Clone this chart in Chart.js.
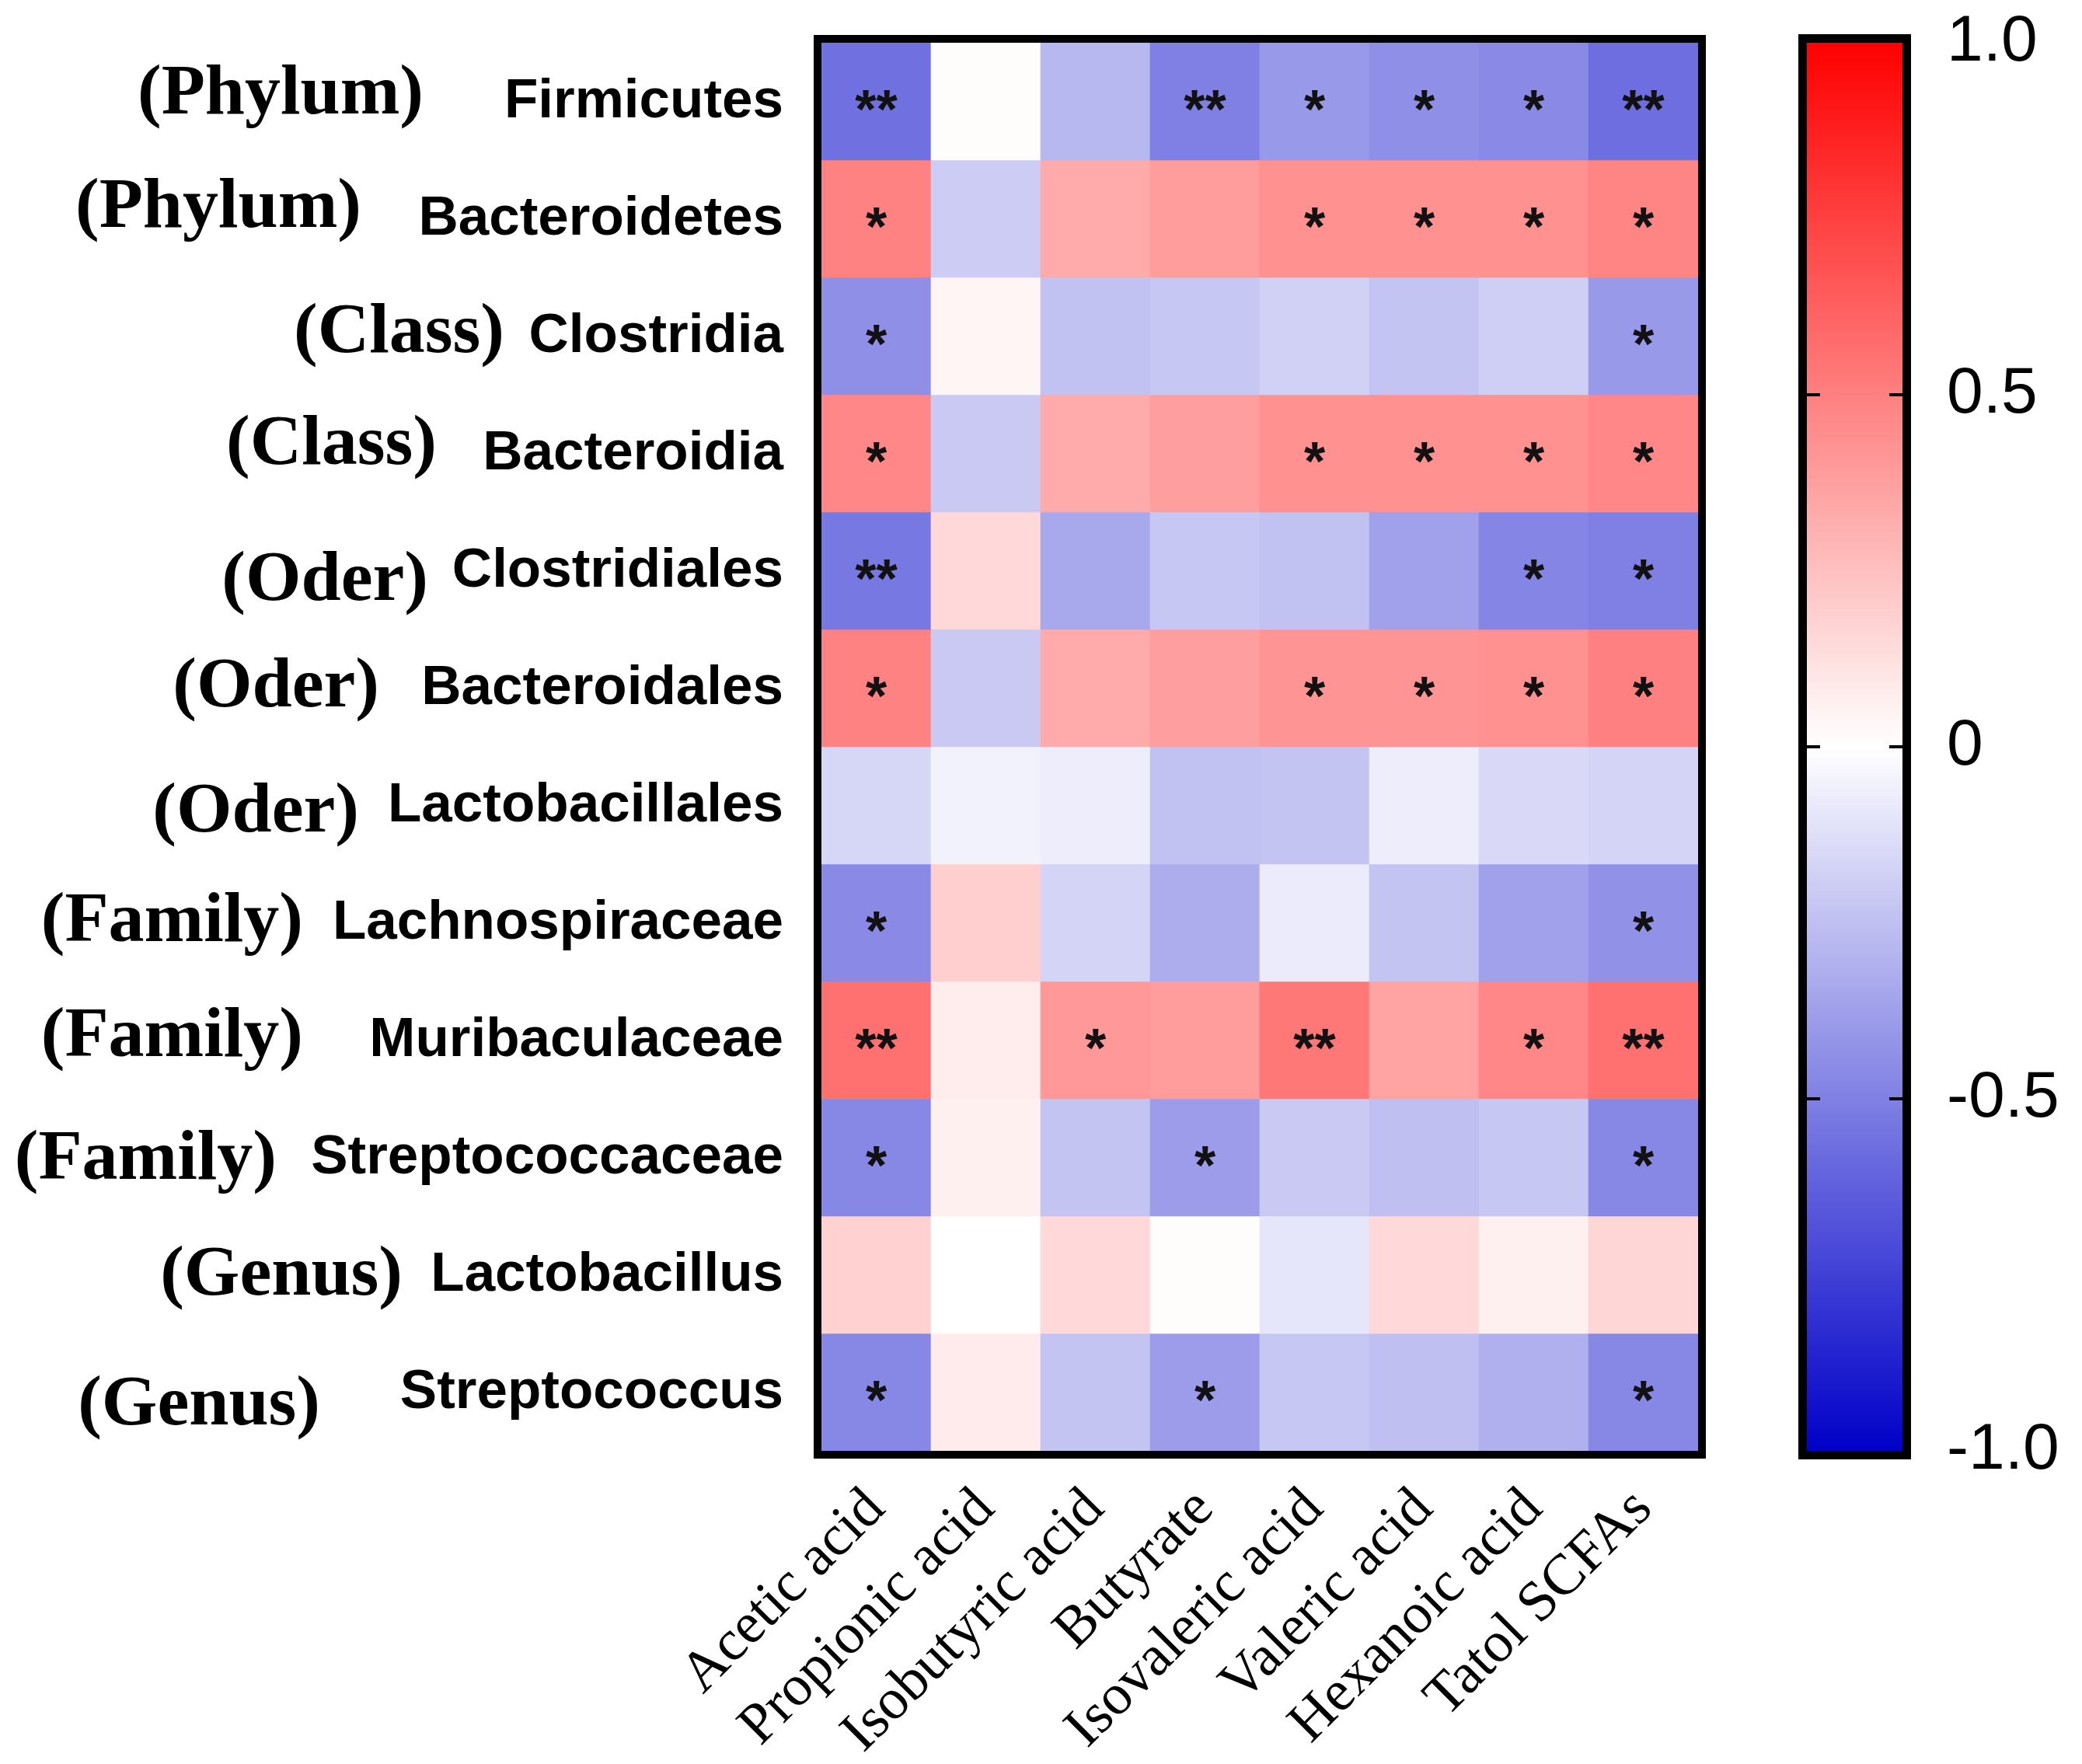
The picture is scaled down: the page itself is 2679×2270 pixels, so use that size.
<!DOCTYPE html>
<html>
<head>
<meta charset="utf-8">
<title>SCFA correlation heatmap</title>
<script src="https://cdn.jsdelivr.net/npm/chart.js@4.4.1/dist/chart.umd.min.js"></script>
<style>
  html, body { margin: 0; padding: 0; background: #fff; }
  .chart-wrap { position: relative; width: 2679px; height: 2270px; }
</style>
</head>
<body>
<div class="chart-wrap"><canvas id="heatmap"></canvas></div>
<script>
/* short chain fatty acids (columns) */
const acids = ['Acetic acid', 'Propionic acid', 'Isobutyric acid', 'Butyrate',
  'Isovaleric acid', 'Valeric acid', 'Hexanoic acid', 'Tatol SCFAs'];

/* taxonomic rank of every row */
const ranks = ['(Phylum)', '(Phylum)', '(Class)', '(Class)', '(Oder)', '(Oder)',
  '(Oder)', '(Family)', '(Family)', '(Family)', '(Genus)', '(Genus)'];

/* bacteria (rows) */
const taxa = ['Firmicutes', 'Bacteroidetes', 'Clostridia', 'Bacteroidia',
  'Clostridiales', 'Bacteroidales', 'Lactobacillales', 'Lachnospiraceae',
  'Muribaculaceae', 'Streptococcaceae', 'Lactobacillus', 'Streptococcus'];

/* correlation coefficients */
const corr = [
  [-0.56, 0.01, -0.28, -0.50, -0.40, -0.44, -0.46, -0.57],
  [0.49, -0.20, 0.33, 0.39, 0.43, 0.43, 0.43, 0.48],
  [-0.44, 0.04, -0.24, -0.22, -0.18, -0.23, -0.19, -0.40],
  [0.47, -0.21, 0.33, 0.38, 0.43, 0.43, 0.43, 0.47],
  [-0.53, 0.15, -0.34, -0.22, -0.24, -0.37, -0.48, -0.50],
  [0.49, -0.21, 0.33, 0.38, 0.42, 0.42, 0.43, 0.50],
  [-0.16, -0.05, -0.07, -0.24, -0.23, -0.07, -0.15, -0.17],
  [-0.46, 0.19, -0.17, -0.32, -0.08, -0.23, -0.37, -0.43],
  [0.56, 0.07, 0.40, 0.39, 0.53, 0.36, 0.47, 0.56],
  [-0.47, 0.06, -0.23, -0.39, -0.21, -0.25, -0.22, -0.47],
  [0.18, 0.00, 0.15, 0.01, -0.10, 0.15, 0.06, 0.16],
  [-0.47, 0.08, -0.23, -0.39, -0.22, -0.25, -0.31, -0.47],
];

/* significance marks */
const stars = [
  ['**', '', '', '**', '*', '*', '*', '**'],
  ['*', '', '', '', '*', '*', '*', '*'],
  ['*', '', '', '', '', '', '', '*'],
  ['*', '', '', '', '*', '*', '*', '*'],
  ['**', '', '', '', '', '', '*', '*'],
  ['*', '', '', '', '*', '*', '*', '*'],
  ['', '', '', '', '', '', '', ''],
  ['*', '', '', '', '', '', '', '*'],
  ['**', '', '*', '', '**', '', '*', '**'],
  ['*', '', '', '*', '', '', '', '*'],
  ['', '', '', '', '', '', '', ''],
  ['*', '', '', '*', '', '', '', '*'],
];

/* colour bar ticks */
const colorbarTicks = [1, 0.5, 0, -0.5, -1];

/* where the rank labels end, and their small vertical shift */
const rankRight = [545, 465, 649, 562, 551, 488, 462, 390, 390, 356, 518, 412];
const rankShift = [-5, -10, 0, -7, 17, 3, 13, 3, 0, 7, 5, 21];

/* blue - white - red colour map */
function corrColor(v) {
  const t = Math.min(Math.abs(v), 1);
  if (v >= 0) {
    const gb = Math.round(255 * (1 - t));
    return `rgb(255,${gb},${gb})`;
  }
  const rg = Math.round(255 * (1 - t));
  const b = Math.round(255 - 55 * t);
  return `rgb(${rg},${rg},${b})`;
}

/* one floating-bar dataset per row, each bar is one cell */
const datasets = taxa.map((name, r) => ({
  label: name,
  data: acids.map(() => [r, r + 1]),
  backgroundColor: corr[r].map(corrColor),
  borderWidth: 0,
  grouped: false,
  barPercentage: 1,
  categoryPercentage: 1,
  yAxisID: 'y',
}));

const sansBold = '"Liberation Sans", Arial, sans-serif';
const serif = '"Liberation Serif", "Times New Roman", serif';

/* stars, frame, row labels and colour bar */
const heatmapDecor = {
  id: 'heatmapDecor',
  afterDraw(chart) {
    const { ctx, chartArea: area, scales } = chart;
    const xs = scales.x;
    const ys = scales.y;
    const cb = scales.cb;
    ctx.save();

    ctx.fillStyle = '#111';
    ctx.font = `bold 70px ${sansBold}`;
    ctx.textAlign = 'center';
    ctx.textBaseline = 'alphabetic';
    stars.forEach((row, r) => {
      row.forEach((s, c) => {
        if (!s) return;
        ctx.fillText(s, xs.getPixelForValue(c), ys.getPixelForValue(r + 0.5) + 34);
      });
    });

    ctx.strokeStyle = '#000';
    ctx.lineWidth = 10;
    ctx.strokeRect(area.left - 5, area.top - 5, area.width + 10, area.height + 10);

    ctx.fillStyle = '#000';
    ctx.textAlign = 'right';
    taxa.forEach((name, r) => {
      const base = ys.getPixelForValue(r + 0.5) + 20;
      ctx.font = `bold 71px ${sansBold}`;
      ctx.fillText(name, area.left - 49, base);
      ctx.font = `bold 92px ${serif}`;
      ctx.fillText(ranks[r], rankRight[r], base + rankShift[r]);
    });

    const top = cb.getPixelForValue(1);
    const bottom = cb.getPixelForValue(-1);
    const left = cb.left + 140;
    const width = 123;
    const grad = ctx.createLinearGradient(0, top, 0, bottom);
    for (let i = 0; i <= 20; i++) {
      grad.addColorStop(i / 20, corrColor(1 - i / 10));
    }
    ctx.fillStyle = grad;
    ctx.fillRect(left, top, width, bottom - top);
    ctx.lineWidth = 11;
    ctx.strokeRect(left - 5.5, top - 5.5, width + 11, bottom - top + 11);
    ctx.lineWidth = 4;
    colorbarTicks.forEach((v) => {
      if (Math.abs(v) === 1) return;
      const py = cb.getPixelForValue(v);
      ctx.beginPath();
      ctx.moveTo(left, py);
      ctx.lineTo(left + 17, py);
      ctx.moveTo(left + width - 17, py);
      ctx.lineTo(left + width, py);
      ctx.stroke();
    });
    ctx.restore();
  },
};

new Chart(document.getElementById('heatmap'), {
  type: 'bar',
  data: { labels: acids, datasets: datasets },
  options: {
    responsive: true,
    maintainAspectRatio: false,
    animation: false,
    events: [],
    layout: { padding: { left: 1057, top: 55, right: 0, bottom: 0 } },
    plugins: { legend: { display: false }, tooltip: { enabled: false } },
    scales: {
      x: {
        type: 'category',
        grid: { display: false },
        border: { display: false },
        ticks: {
          autoSkip: false,
          minRotation: 45,
          maxRotation: 45,
          padding: 24,
          color: '#000',
          font: { family: serif, size: 74 },
        },
        afterFit(scale) { scale.height = 403; },
      },
      y: {
        type: 'linear',
        display: false,
        reverse: true,
        min: 0,
        max: taxa.length,
      },
      cb: {
        type: 'linear',
        position: 'right',
        min: -1,
        max: 1,
        /* long invisible tick marks push the labels past the colour bar */
        grid: { display: false, drawTicks: true, tickLength: 318 },
        border: { display: false },
        afterBuildTicks(scale) {
          scale.ticks = colorbarTicks.map((v) => ({ value: v }));
        },
        ticks: {
          padding: 2,
          color: '#000',
          font: { family: sansBold, size: 84 },
          callback: (v) => (v === 0 ? '0' : v.toFixed(1)),
        },
        afterFit(scale) { scale.width = 494; },
      },
    },
  },
  plugins: [heatmapDecor],
});
</script>
</body>
</html>
